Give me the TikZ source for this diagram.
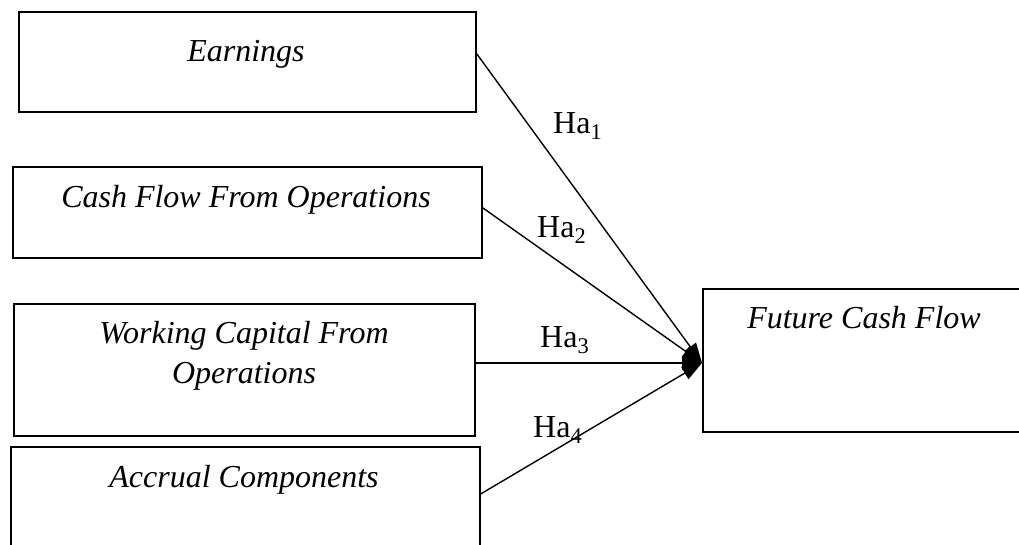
\documentclass[tikz,border=0pt]{standalone}
\usepackage{fontspec}
\setmainfont{Liberation Serif}
\usetikzlibrary{arrows.meta}
\begin{document}
\begin{tikzpicture}[x=1pt,y=-1pt,
  box/.style={draw, line width=1.8pt, inner sep=0pt, anchor=north west},
  boxtext/.style={inner sep=0pt, anchor=base, font=\fontsize{32}{36}\selectfont\itshape},
  hlabel/.style={inner sep=0pt, anchor=base west, font=\fontsize{32}{36}\selectfont},
  conn/.style={line width=1.4pt, -{Triangle[length=20pt,width=14pt]}}]
\useasboundingbox (0,0) rectangle (1019,544);
\clip (0,0) rectangle (1019,544);
% boxes
\node[box, minimum width=457pt, minimum height=100pt] (earn) at (18,11) {};
\node[box, minimum width=469pt, minimum height=91pt] (cfo) at (12,166) {};
\node[box, minimum width=461pt, minimum height=132pt] (wc) at (13,303) {};
\node[box, minimum width=469pt, minimum height=102pt] (acc) at (10,446) {};
\node[box, minimum width=330pt, minimum height=143pt] (fcf) at (702,288) {};
% texts
\node[boxtext] (tearn) at (246,61) {Earnings};
\node[boxtext] (tcfo) at (246,207) {Cash Flow From Operations};
\node[boxtext] (twc1) at (244,343) {Working Capital From};
\node[boxtext] (twc2) at (244,383) {Operations};
\node[boxtext] (tacc) at (244,487) {Accrual Components};
\node[boxtext] (tfcf) at (864,328) {Future Cash Flow};
% connectors
\draw[conn] ([yshift=8pt]earn.east) -- ([yshift=-2.5pt]fcf.west);
\draw[conn] ([yshift=4.5pt]cfo.east) -- ([yshift=-2.5pt]fcf.west);
\draw[conn] ([yshift=7pt]wc.east) -- ([yshift=-2.5pt]fcf.west);
\draw[conn] ([yshift=4pt]acc.east) -- ([yshift=-2.5pt]fcf.west);
% labels
\node[hlabel] (h1) at (553,133) {Ha\textsubscript{1}};
\node[hlabel] (h2) at (537,237) {Ha\textsubscript{2}};
\node[hlabel] (h3) at (540,347) {Ha\textsubscript{3}};
\node[hlabel] (h4) at (533,437) {Ha\textsubscript{4}};
\end{tikzpicture}
\end{document}
